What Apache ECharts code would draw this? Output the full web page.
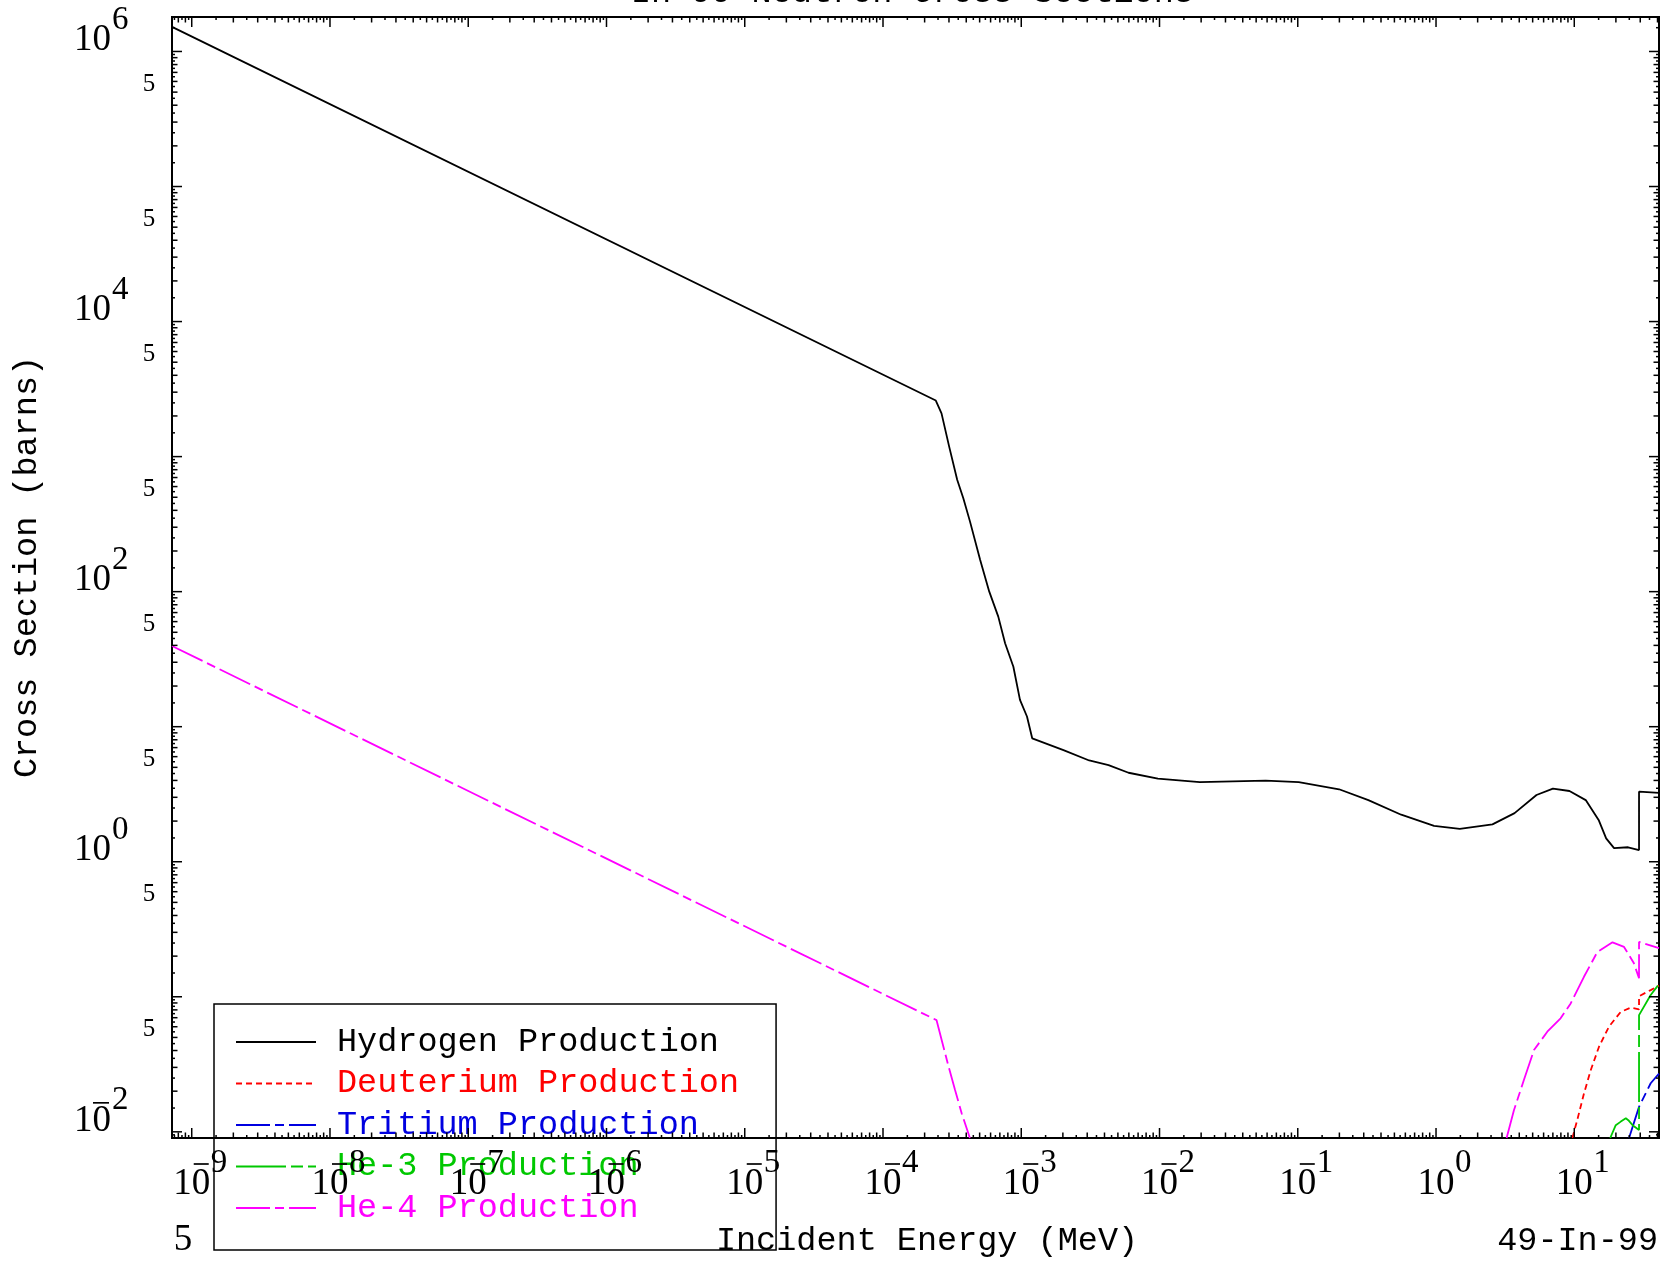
<!DOCTYPE html>
<html><head><meta charset="utf-8">
<script src="https://cdn.jsdelivr.net/npm/echarts@6/dist/echarts.min.js"></script>
<style>html,body{margin:0;padding:0;background:#fff}#c{width:1663px;height:1261px}</style>
</head><body><div id="c"></div>
<script>
// ---- axis ranges and tick labels ----
const xMin = 7.2e-10, xMax = 41;
const yMin = 0.009, yMax = 1.8e6;
const xLabelExps = [-9, -8, -7, -6, -5, -4, -3, -2, -1, 0, 1];
const yLabelExps = [-2, 0, 2, 4, 6];
const yFiveExps = [-2, -1, 0, 1, 2, 3, 4, 5];
const minorMults = [1, 1.5, 2, 2.5, 3, 3.5, 4, 4.5, 5, 5.5, 6, 6.5, 7, 7.5, 8, 8.5, 9, 9.5];

// ---- series data (energy in MeV, cross section in barns) ----
const hydrogenE = [7.2e-10, 2.41e-4, 2.65e-4, 3.01e-4, 3.44e-4, 3.81e-4, 4.26e-4, 5.04e-4, 5.87e-4, 6.82e-4,
  7.64e-4, 8.77e-4, 9.79e-4, 1.10e-3, 1.20e-3, 2.02e-3, 3.10e-3, 4.28e-3, 5.97e-3, 9.73e-3,
  1.96e-2, 5.86e-2, 0.1016, 0.199, 0.324, 0.560, 0.968, 1.486, 2.56, 3.70,
  5.33, 7.01, 9.23, 12.1, 15.0, 17.0, 19.4, 24.5, 29.4, 29.4, 41];
const hydrogenXS = [1.52e6, 2600, 2090, 1186, 673, 492, 330, 172, 100, 65.3,
  41.5, 27.8, 15.8, 11.9, 8.2, 6.71, 5.62, 5.20, 4.56, 4.12,
  3.89, 3.98, 3.89, 3.44, 2.86, 2.23, 1.84, 1.75, 1.89, 2.29,
  3.12, 3.48, 3.34, 2.86, 2.04, 1.49, 1.26, 1.28, 1.22, 3.30, 3.24];

const deuteriumE = [9.69, 10.5, 11.75, 13.15, 15.1, 17.8, 21.7, 25.6, 29.4, 29.4, 35.7, 41];
const deuteriumXS = [0.009, 0.0122, 0.0192, 0.0286, 0.0427, 0.060, 0.0774, 0.083, 0.0807, 0.101, 0.112, 0.121];

const tritiumE = [24.9, 29.4, 35.7, 41];
const tritiumXS = [0.009, 0.0153, 0.0229, 0.0270];

const he3E = [18.2, 19.95, 21.7, 23.6, 24.6, 26.4, 29.4, 29.4, 35.7, 41];
const he3XS = [0.009, 0.0112, 0.0119, 0.0126, 0.0122, 0.0112, 0.0103, 0.0731, 0.103, 0.124];

const he4E = [7.2e-10, 2.44e-4, 2.96e-4, 3.32e-4, 3.71e-4, 4.25e-4, 1e-2,
  3.24, 3.66, 4.32, 5.11, 6.38, 7.96, 9.42, 11.75, 14.7, 18.9, 22.9, 27.0, 29.4, 29.4, 41];
const he4XS = [39.6, 0.0671, 0.0312, 0.0204, 0.01368, 0.009, null,
  0.009, 0.01445, 0.0242, 0.0403, 0.0551, 0.0692, 0.0893, 0.1406, 0.215, 0.253, 0.234, 0.177, 0.137, 0.255, 0.229];

const seriesNames = ['Hydrogen Production', 'Deuterium Production', 'Tritium Production', 'He-3 Production', 'He-4 Production'];
const seriesColors = ['#000000', '#ff0000', '#0000e0', '#00c800', '#ff00ff'];

// ---- build ----
const zip = (a, b) => a.map((v, i) => [v, b[i]]);
const lineData = [zip(hydrogenE, hydrogenXS), zip(deuteriumE, deuteriumXS), zip(tritiumE, tritiumXS), zip(he3E, he3XS), zip(he4E, he4XS)];
const dashes = ['solid', [6, 4], [34, 5, 9, 5], [50, 5, 12, 5], [34, 5, 9, 5]];

const xTicks = [], yTicks = [];
for (let k = -10; k <= 2; k++) for (const m of minorMults) {
  const v = m * Math.pow(10, k);
  const len = m === 1 ? 10 : (Number.isInteger(m) ? 5.5 : 3);
  if (v > xMin && v < xMax) xTicks.push([v, yMin, len]);
}
for (let k = -3; k <= 7; k++) for (const m of minorMults) {
  const v = m * Math.pow(10, k);
  const len = m === 1 ? 10 : (Number.isInteger(m) ? 5.5 : 3);
  if (v > yMin && v < yMax) yTicks.push([xMin, v, len]);
}

const SERIF = '"Liberation Serif", serif';
const MONO = '"Liberation Mono", monospace';
const tickStyle = { stroke: '#000', lineWidth: 1.5 };

const series = lineData.map((d, i) => ({
  name: seriesNames[i], type: 'line', data: d, symbol: 'none', showSymbol: false,
  connectNulls: false, clip: true, z: 3,
  lineStyle: { color: seriesColors[i], width: 1.8, type: dashes[i] },
  itemStyle: { color: seriesColors[i] }
}));

series.push({
  type: 'custom', name: 'xticks', data: xTicks, encode: { x: 0, y: 1 }, silent: true, z: 5,
  renderItem(params, api) {
    const e = api.value(0), len = api.value(2);
    const b = api.coord([e, yMin]), t = api.coord([e, yMax]);
    return { type: 'group', children: [
      { type: 'line', shape: { x1: b[0], y1: b[1], x2: b[0], y2: b[1] - len }, style: tickStyle },
      { type: 'line', shape: { x1: t[0], y1: t[1], x2: t[0], y2: t[1] + len }, style: tickStyle }
    ] };
  }
});
series.push({
  type: 'custom', name: 'yticks', data: yTicks, encode: { x: 0, y: 1 }, silent: true, z: 5,
  renderItem(params, api) {
    const s = api.value(1), len = api.value(2);
    const l = api.coord([xMin, s]), r = api.coord([xMax, s]);
    return { type: 'group', children: [
      { type: 'line', shape: { x1: l[0], y1: l[1], x2: l[0] + len, y2: l[1] }, style: tickStyle },
      { type: 'line', shape: { x1: r[0], y1: r[1], x2: r[0] - len, y2: r[1] }, style: tickStyle }
    ] };
  }
});
series.push({
  type: 'custom', name: 'xlabels', data: xLabelExps.map(k => [Math.pow(10, k), yMin, k]),
  encode: { x: 0, y: 1 }, silent: true, z: 5,
  renderItem(params, api) {
    const k = api.value(2);
    const p = api.coord([api.value(0), yMin]);
    const ch = [
      { type: 'text', style: { text: '10', x: p[0], y: p[1] + 46, align: 'center', verticalAlign: 'middle', font: '37px ' + SERIF, fill: '#000' } },
      { type: 'text', style: { text: String(Math.abs(k)), x: p[0] + 19, y: p[1] + 25, align: 'left', verticalAlign: 'middle', font: '33px ' + SERIF, fill: '#000' } }
    ];
    if (k < 0) ch.push({ type: 'line', shape: { x1: p[0] + 2, y1: p[1] + 26, x2: p[0] + 17, y2: p[1] + 26 }, style: { stroke: '#000', lineWidth: 1.7 } });
    return { type: 'group', children: ch };
  }
});
series.push({
  type: 'custom', name: 'ylabels', data: yLabelExps.map(k => [xMin, Math.pow(10, k), k]),
  encode: { x: 0, y: 1 }, silent: true, z: 5,
  renderItem(params, api) {
    const k = api.value(2);
    const p = api.coord([xMin, api.value(1)]);
    const ch = [
      { type: 'text', style: { text: '10', x: p[0] - 61, y: p[1] - 11, align: 'right', verticalAlign: 'middle', font: '37px ' + SERIF, fill: '#000' } },
      { type: 'text', style: { text: String(Math.abs(k)), x: p[0] - 60, y: p[1] - 31, align: 'left', verticalAlign: 'middle', font: '33px ' + SERIF, fill: '#000' } }
    ];
    if (k < 0) ch.push({ type: 'line', shape: { x1: p[0] - 79, y1: p[1] - 29, x2: p[0] - 63, y2: p[1] - 29 }, style: { stroke: '#000', lineWidth: 1.7 } });
    return { type: 'group', children: ch };
  }
});
series.push({
  type: 'custom', name: 'yfives', data: yFiveExps.map(k => [xMin, 5 * Math.pow(10, k)]),
  encode: { x: 0, y: 1 }, silent: true, z: 5,
  renderItem(params, api) {
    const p = api.coord([xMin, api.value(1)]);
    return { type: 'text', style: { text: '5', x: p[0] - 23, y: p[1] - 8, align: 'center', verticalAlign: 'middle', font: '25px ' + SERIF, fill: '#000' } };
  }
});

const chart = echarts.init(document.getElementById('c'), null, { renderer: 'canvas' });
chart.setOption({
  animation: false,
  backgroundColor: '#fff',
  grid: { left: 172, right: 4, top: 17, bottom: 123, show: true, borderColor: '#000', borderWidth: 2, backgroundColor: 'transparent' },
  xAxis: { type: 'log', logBase: 10, min: xMin, max: xMax,
    axisLine: { show: false }, axisTick: { show: false }, axisLabel: { show: false }, splitLine: { show: false }, minorTick: { show: false } },
  yAxis: { type: 'log', logBase: 10, min: yMin, max: yMax,
    axisLine: { show: false }, axisTick: { show: false }, axisLabel: { show: false }, splitLine: { show: false }, minorTick: { show: false } },
  legend: {
    orient: 'vertical', left: 214, top: 1004, align: 'left',
    padding: [21, 37, 25, 21], borderColor: '#000', borderWidth: 1.5, backgroundColor: 'transparent',
    itemWidth: 80, itemHeight: 30, itemGap: 7.5, selectedMode: false,
    itemStyle: { color: 'rgba(0,0,0,0)', borderColor: 'rgba(0,0,0,0)', borderWidth: 0, opacity: 0 },
    textStyle: { fontFamily: MONO, fontSize: 33.5, padding: [0, 0, 0, 16] },
    data: seriesNames.map((n, i) => ({ name: n, textStyle: { color: seriesColors[i] } }))
  },
  graphic: [
    { type: 'text', x: 631, y: -7, silent: true, style: { text: 'In-99 Neutron Cross Sections', font: '33.5px ' + MONO, fill: '#000', align: 'left', verticalAlign: 'middle' } },
    { type: 'text', x: 927, y: 1241, silent: true, style: { text: 'Incident Energy (MeV)', font: '33.5px ' + MONO, fill: '#000', align: 'center', verticalAlign: 'middle' } },
    { type: 'text', x: 1658, y: 1241, silent: true, style: { text: '49-In-99', font: '33.5px ' + MONO, fill: '#000', align: 'right', verticalAlign: 'middle' } },
    { type: 'text', x: 183, y: 1240, silent: true, style: { text: '5', font: '37px ' + SERIF, fill: '#000', align: 'center', verticalAlign: 'middle' } },
    { type: 'text', x: 27, y: 567, rotation: Math.PI / 2, silent: true, style: { text: 'Cross Section (barns)', font: '33.5px ' + MONO, fill: '#000', align: 'center', verticalAlign: 'middle' } }
  ],
  series: series
});
</script></body></html>
